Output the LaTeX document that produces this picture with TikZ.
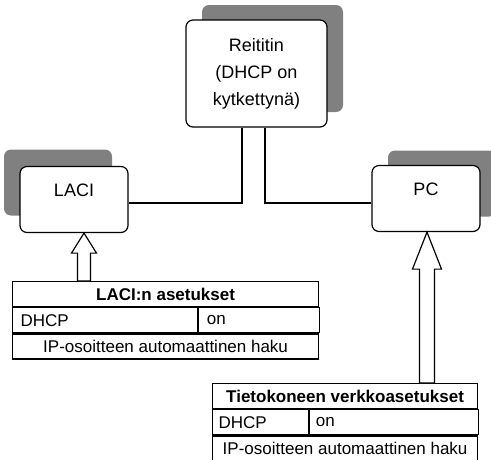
\documentclass[tikz,border=0pt]{standalone}
\usepackage{fontspec}
\setmainfont{Liberation Sans}
\usetikzlibrary{shadows,calc}

\tikzset{
  laite/.style={draw, line width=1.2pt, fill=white, rounded corners=7pt,
    minimum width=108pt, minimum height=66pt, align=center},
  solu/.style={draw, line width=1.2pt, anchor=north west, minimum height=25pt,
    inner sep=0pt, font=\fontsize{17}{21}\selectfont},
  otsikko/.style={solu, font=\fontsize{17}{21}\selectfont\bfseries},
  johto/.style={line width=1.2pt},
  nuoli/.style={line width=1.2pt, fill=white, line join=miter}
}

\begin{document}
\begin{tikzpicture}[x=1pt, y=-1pt, font=\fontsize{18}{27}\selectfont]
  \useasboundingbox (0,0) rectangle (491,459);
  % laitteet
  \node[laite, minimum width=141pt, minimum height=107pt,
    general shadow={fill=black!50, shadow xshift=16pt, shadow yshift=15pt}]
    (reititin) at (256.5,73.5) {Reititin\\(DHCP on\\kytkettynä)};
  \node[laite, text depth=18pt,
    general shadow={fill=black!50, shadow xshift=-16pt, shadow yshift=17pt}]
    (laci) at (74,199.5) {LACI};
  \node[laite, text depth=18pt,
    general shadow={fill=black!50, shadow xshift=16pt, shadow yshift=15pt}]
    (pc) at (426,198.5) {PC};
  % johdot
  \draw[johto] ([xshift=-14.5pt]reititin.south) |- ([yshift=-3.5pt]laci.east);
  \draw[johto] ([xshift=8.5pt]reititin.south) |- ([yshift=-4.5pt]pc.west);
  % LACI:n taulukko
  \node[otsikko, minimum width=306pt] (laciotsikko) at (12,281)
    {LACI:n asetukset};
  \node[solu, text width=169pt, align=left, inner xsep=8pt] (lacidhcp)
    at (laciotsikko.south west) {DHCP};
  \node[solu, text width=105pt, align=left, inner xsep=8pt] (lacion)
    at (lacidhcp.north east) {on};
  \node[solu, minimum width=306pt] (laciip) at (lacidhcp.south west)
    {IP-osoitteen automaattinen haku};
  % PC:n taulukko
  \node[otsikko, minimum width=265pt] (pcotsikko) at (212,383)
    {Tietokoneen verkkoasetukset};
  \node[solu, text width=84pt, align=left, inner xsep=6pt] (pcdhcp)
    at (pcotsikko.south west) {DHCP};
  \node[solu, text width=157pt, align=left, inner xsep=6pt] (pcon)
    at (pcdhcp.north east) {on};
  \node[solu, minimum width=265pt] (pcip) at (pcdhcp.south west)
    {IP-osoitteen automaattinen haku};
  % nuolet
  \draw[nuoli] let \p1=([xshift=10pt]laci.south), \p2=(laciotsikko.north) in
    (\x1,\y1) -- (\x1+12.5pt,\y1-20pt) -- (\x1+6.5pt,\y1-20pt)
    -- (\x1+6.5pt,\y2) -- (\x1-6.5pt,\y2) -- (\x1-6.5pt,\y1-20pt)
    -- (\x1-12.5pt,\y1-20pt) -- cycle;
  \draw[nuoli] let \p1=([xshift=1pt]pc.south), \p2=(pcotsikko.north) in
    (\x1,\y1) -- (\x1+14.5pt,\y1-37pt) -- (\x1+7.5pt,\y1-37pt)
    -- (\x1+7.5pt,\y2) -- (\x1-7.5pt,\y2) -- (\x1-7.5pt,\y1-37pt)
    -- (\x1-14.5pt,\y1-37pt) -- cycle;
\end{tikzpicture}
\end{document}
